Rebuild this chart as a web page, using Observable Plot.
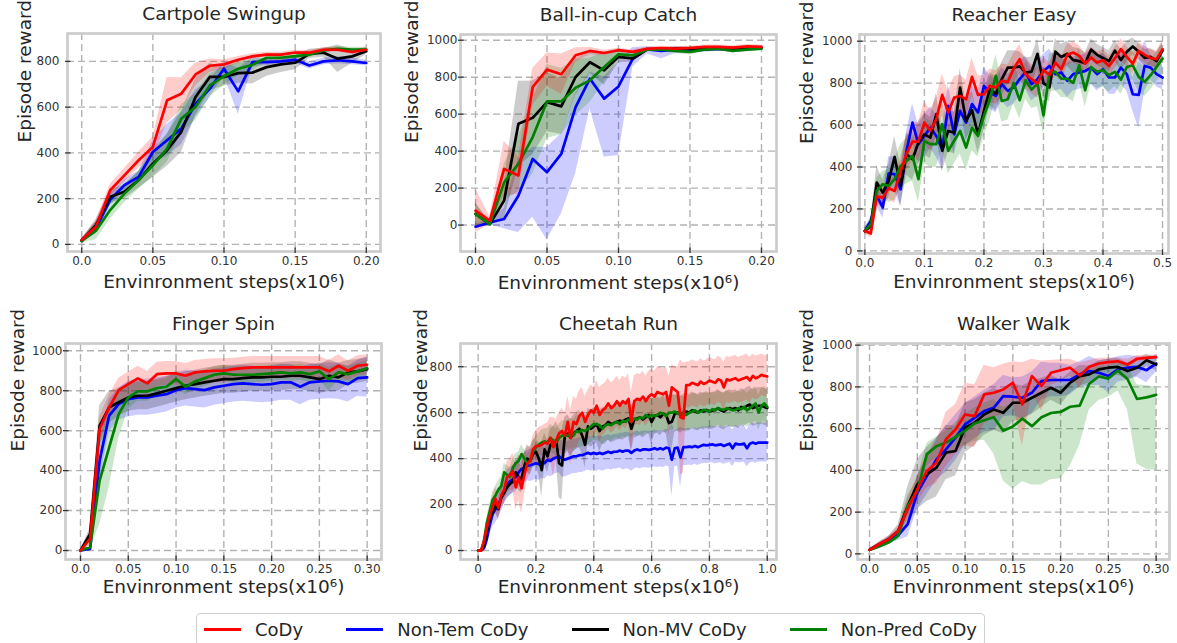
<!DOCTYPE html>
<html><head><meta charset="utf-8">
<script src="https://cdn.jsdelivr.net/npm/d3@7"></script>
<script src="https://cdn.jsdelivr.net/npm/@observablehq/plot@0.6"></script>
<style>
body{margin:0;background:#fff;}
#root{position:relative;width:1177px;height:643px;overflow:hidden;font-family:"DejaVu Sans",sans-serif;background:#fff;}
.cell{position:absolute;}
#legend{position:absolute;left:196px;top:613px;width:789px;height:33px;box-sizing:border-box;border:1px solid #cfcfcf;border-radius:4px;display:flex;justify-content:space-between;align-items:center;padding:0 7px;font-size:18px;color:#262626;}
#legend .item{display:flex;align-items:center;white-space:nowrap;}
#legend .sw{display:inline-block;width:37px;height:3px;margin-right:14px;}
</style></head>
<body><div id="root"></div>
<script>
// ---------- shared labels ----------
const seriesNames = ["CoDy", "Non-Tem CoDy", "Non-MV CoDy", "Non-Pred CoDy"];
const seriesColors = ["#ff0000", "#0000ff", "#000000", "#008000"];
const drawOrder = ["Non-Tem CoDy", "Non-MV CoDy", "Non-Pred CoDy", "CoDy"];
const xAxisLabel = "Envinronment steps(x10\u2076)";
const yAxisLabel = "Episode reward";
const panelTitles = ["Cartpole Swingup", "Ball-in-cup Catch", "Reacher Easy", "Finger Spin", "Cheetah Run", "Walker Walk"];

// ---------- Cartpole Swingup (step 0.01) ----------
const cartpoleCoDy    = [19,77,237,302,368,426,630,659,743,781,787,807,822,830,830,839,838,851,851,841,851];
const cartpoleNonTem  = [19,70,195,259,295,404,455,506,615,680,768,669,797,797,800,807,782,800,805,800,793];
const cartpoleNonMV   = [15,84,208,230,281,353,412,492,644,732,732,749,751,775,787,794,833,838,812,822,844];
const cartpoleNonPred = [15,60,150,222,281,346,419,550,601,695,735,768,785,816,816,823,829,848,855,852,852];
const cartpoleCoDySd    = [8,25,25,30,35,45,100,70,50,30,20,15,12,10,10,10,10,10,10,10,10];
const cartpoleNonTemSd  = [8,25,25,25,25,50,70,70,60,40,30,100,20,15,15,15,15,15,15,15,12];
const cartpoleNonMVSd   = [8,25,30,30,35,60,70,90,80,60,40,45,50,40,35,30,20,20,60,30,15];
const cartpoleNonPredSd = [8,40,40,40,40,50,60,60,60,50,40,30,25,20,15,12,12,10,10,10,10];

// ---------- Ball-in-cup Catch (step 0.01) ----------
const ballCoDy    = [78,24,304,268,747,841,816,919,942,931,946,937,953,958,955,958,964,964,960,967,964];
const ballNonTem  = [-9,14,33,159,358,286,385,638,792,684,750,900,951,942,949,946,951,955,951,953,958];
const ballNonMV   = [60,5,132,548,580,665,642,801,881,837,910,901,951,949,955,955,953,955,949,955,958];
const ballNonPred = [60,5,231,331,476,669,669,743,783,855,924,918,949,949,942,937,949,955,942,949,955];
const ballCoDySd    = [120,20,150,100,100,90,110,40,20,15,10,10,10,10,10,10,10,10,10,10,10];
const ballNonTemLo  = [-20,0,-20,-40,42,-80,60,277,629,367,376,855,925,900,930,930,935,940,935,940,945];
const ballNonTemHi  = [5,30,90,360,421,420,494,710,828,801,882,960,965,960,962,962,965,968,965,966,968];
const ballNonMVSd   = [60,10,100,230,200,160,150,100,60,80,30,20,10,10,10,10,10,10,10,10,10];
const ballNonPredSd = [60,10,100,150,200,200,180,150,120,80,30,20,10,10,15,15,10,10,10,10,10];

// ---------- Reacher Easy (step 0.01) ----------
const reacherCoDy = [95,83,259,254,299,286,378,464,521,521,612,572,628,744,660,731,739,723,830,744,747,787,779,811,806,
  870,914,843,819,798,862,839,898,866,935,946,930,893,922,898,909,882,919,962,925,893,954,935,919,914,962];
const reacherNonTem = [95,143,262,207,369,366,294,477,612,509,548,588,548,485,692,556,668,612,700,660,787,755,739,795,763,
  780,819,851,795,819,858,882,843,851,811,843,851,858,874,843,866,827,827,874,843,747,744,882,874,843,827];
const reacherNonMV = [95,119,326,278,334,448,310,461,437,517,556,540,652,477,572,564,779,620,671,556,668,771,750,819,874,
  874,880,850,855,940,800,780,950,925,940,910,905,895,960,935,920,905,955,910,950,975,950,920,925,905,955];
const reacherNonPred = [95,127,286,318,310,342,405,429,453,342,525,509,509,604,477,525,572,493,588,548,644,723,835,715,723,
  801,719,814,769,798,647,849,854,822,820,801,885,766,877,854,862,838,854,817,877,885,830,806,838,877,917];
const reacherCoDySd = [15,20,40,50,50,60,70,80,90,90,100,100,100,100,100,100,100,90,90,90,90,80,80,80,80,70,70,70,70,70,
  60,60,60,60,50,50,50,50,50,50,50,50,50,50,50,50,40,40,40,40,40];
const reacherNonTemSd = [15,20,50,50,80,80,80,90,90,90,100,100,100,100,100,100,100,100,90,90,90,80,80,80,80,80,80,80,80,80,
  80,80,80,80,80,80,80,80,80,80,80,80,80,80,80,80,160,120,60,60,60];
const reacherNonMVSd = [15,30,80,60,80,100,100,100,100,100,100,100,100,100,100,100,90,90,90,90,90,80,80,80,80,80,70,70,70,70,
  70,70,60,60,60,60,60,50,50,50,50,50,50,50,50,40,40,40,40,40,40];
const reacherNonPredSd = [15,20,60,60,80,100,100,110,120,110,110,110,110,110,110,110,110,110,110,100,100,100,100,100,100,100,90,90,90,110,
  90,90,90,90,90,90,80,80,80,80,80,80,70,70,70,70,70,70,70,70,70];

// ---------- Finger Spin (step 0.01) ----------
const fingerCoDy    = [0,58,608,717,803,833,862,837,883,887,887,875,892,897,900,900,908,913,917,917,917,917,917,917,917,917,897,925,900,925,930];
const fingerNonTem  = [0,8,450,675,733,758,767,767,775,783,803,813,808,803,817,825,833,837,833,830,833,842,842,820,842,847,850,847,833,863,867];
const fingerNonMV   = [0,83,625,717,742,767,775,775,787,800,813,825,833,842,850,858,858,863,867,867,870,870,875,875,867,858,875,867,892,897,908];
const fingerNonPred = [0,17,350,517,683,767,797,797,813,820,858,820,847,863,880,887,880,880,880,883,887,892,887,892,883,897,858,892,883,897,913];
const fingerCoDySd    = [0,30,60,60,60,60,60,60,60,60,60,60,60,60,60,60,55,55,55,55,55,55,55,55,55,55,55,55,50,50,50];
const fingerNonTemSd  = [0,10,100,80,80,90,90,90,90,90,90,90,90,90,90,90,90,90,90,90,90,90,90,90,90,90,90,90,90,90,100];
const fingerNonMVSd   = [0,30,100,80,70,70,70,70,70,70,70,70,70,70,70,70,70,70,70,70,70,70,70,70,70,70,80,70,60,60,60];
const fingerNonPredSd = [0,15,220,200,120,60,50,50,40,40,40,40,40,40,40,40,40,40,40,40,40,40,40,40,40,40,60,40,40,40,40];

// ---------- Cheetah Run (step 0.01) ----------
const cheetahCoDy = [0,0,40,100,150,190,225,185,240,265, 320,330,345,275,320,270,330,380,390,440,
  455,455,460,470,465,490,450,480,510,520, 500,560,490,560,550,585,600,560,590,610,
  600,630,590,610,620,640,620,630,650,630, 650,640,660,560,650,660,655,670,650,670,
  680,670,690,685,680,690,630,710,700,690, 580,575,720,720,730,725,720,735,725,730,
  740,735,730,745,740,710,745,740,745,750, 740,745,750,755,740,760,750,755,765,760, 758];
const cheetahNonTem = [0,0,10,50,110,160,180,200,230,260, 290,300,310,320,340,355,360,370,370,375,
  380,375,385,380,395,390,400,405,410,400, 395,400,405,410,410,415,415,420,425,420,
  425,420,425,420,425,430,425,430,430,435, 430,435,435,425,435,440,435,440,440,438,
  440,445,440,445,440,448,445,395,445,448, 405,450,450,452,450,455,450,455,460,458,
  460,462,458,460,462,455,460,465,445,465, 462,462,465,445,465,470,465,470,470,470, 470];
const cheetahNonMV = [0,0,20,80,140,165,200,180,230,250, 275,290,300,340,320,310,370,400,390,420,
  430,400,350,440,410,460,470,480,380,370, 500,510,490,510,520,530,500,460,540,530,
  540,550,520,540,545,560,550,555,560,565, 560,570,575,530,570,575,580,570,580,590,
  560,585,590,580,595,590,555,560,595,600, 590,600,605,600,610,605,600,610,605,612,
  605,608,612,620,610,605,615,620,615,620, 610,625,620,630,635,620,625,630,630,625, 620];
const cheetahNonPred = [0,0,40,120,170,220,240,265,280,340, 330,320,360,380,390,420,400,380,390,430,
  450,460,470,475,470,490,480,470,490,500, 500,500,510,500,520,515,525,520,530,540,
  550,550,545,530,545,550,545,555,560,550, 565,560,570,560,575,570,580,575,590,580,
  590,585,590,600,595,585,600,600,605,595, 600,595,590,600,605,610,600,605,612,610,
  605,615,610,620,615,612,620,615,610,612, 620,615,625,610,620,630,640,600,630,640, 625];
const cheetahCoDySd = [5,5,15,25,35,45,50,55,60,60, 65,70,80,100,100,110,90,70,60,60,
  70,80,80,80,90,90,130,90,90,100, 100,110,120,110,110,110,110,110,110,110,
  110,110,120,110,110,110,110,110,110,110, 110,110,110,130,110,110,110,110,110,110,
  110,110,110,110,110,110,130,100,100,110, 250,240,100,100,100,100,100,100,100,100,
  100,100,100,100,100,110,100,100,100,100, 100,100,100,100,100,95,95,95,90,90, 90];
const cheetahNonTemSd = [5,5,15,30,45,55,60,60,60,60, 60,60,60,65,65,65,65,65,70,70,
  70,70,70,70,70,70,70,70,70,80, 75,75,75,75,75,75,75,75,75,75,
  75,75,75,75,75,75,75,75,75,75, 80,80,80,80,80,80,80,80,80,80,
  80,80,80,80,80,80,80,160,80,80, 130,80,80,80,80,80,80,80,80,80,
  80,80,80,80,80,80,80,80,80,80, 80,80,80,80,85,85,85,85,85,85, 85];
const cheetahNonMVSd = [5,5,10,20,30,35,40,40,45,45, 50,50,50,60,60,60,60,60,60,60,
  60,70,120,70,70,70,70,80,150,150, 80,80,80,80,80,80,80,100,80,80,
  80,80,90,80,80,80,80,80,80,80, 80,80,80,100,80,80,80,80,80,80,
  100,80,80,80,80,80,120,120,80,80, 80,80,80,80,80,80,80,80,80,80,
  80,80,80,80,80,80,80,80,80,80, 80,80,80,80,80,80,80,80,80,80, 80];
const cheetahNonPredSd = [5,5,15,25,30,35,40,40,40,40, 40,40,40,40,40,40,40,40,40,45,
  50,50,55,55,60,60,60,60,60,65, 65,65,65,70,70,70,70,70,70,70,
  70,70,70,70,70,70,70,70,70,70, 70,70,70,70,70,75,75,75,75,75,
  75,75,75,75,75,75,75,75,75,75, 75,75,75,75,75,75,75,75,75,75,
  75,75,75,75,75,75,75,75,75,75, 75,75,75,75,75,75,75,75,75,75, 75];

// ---------- Walker Walk (step 0.01) ----------
const walkerCoDy    = [19,46,70,110,214,309,397,437,549,596,668,660,764,772,788,820,716,852,804,868,880,892,855,896,912,919,923,907,935,939,943];
const walkerNonTem  = [19,41,67,89,142,293,373,453,501,557,620,652,684,700,756,753,748,772,828,833,833,833,860,876,868,852,884,892,896,880,912];
const walkerNonMV   = [19,46,70,110,230,333,381,413,485,493,604,628,668,692,676,724,724,748,772,796,772,820,852,860,884,892,896,876,892,928,907];
const walkerNonPred = [19,35,54,86,230,301,478,516,533,560,590,625,640,655,590,610,648,612,655,675,680,705,710,815,850,840,878,838,742,750,762];
const walkerCoDySd   = [5,10,15,20,50,60,80,100,130,120,150,150,140,120,120,100,200,80,120,60,50,40,60,30,25,20,15,25,15,10,10];
const walkerNonTemSd = [5,10,15,25,60,80,90,100,110,110,100,100,100,110,100,90,100,100,90,80,80,70,60,70,60,80,60,60,50,60,40];
const walkerNonMVSd  = [5,10,15,30,90,120,130,140,130,120,120,110,100,100,100,90,80,80,70,60,60,50,50,40,40,40,40,40,40,30,30];
const walkerNonPredLo = [10,25,45,70,180,260,420,460,480,500,520,540,545,480,350,310,345,330,330,355,360,420,520,690,735,750,780,690,430,405,400];
const walkerNonPredHi = [30,45,65,110,280,360,530,560,590,630,670,700,720,740,700,720,750,740,770,790,800,820,850,880,900,900,920,900,810,805,800];

// ---------- ticks ----------
const yTicks1000 = [0,200,400,600,800,1000];
const yTicks800 = [0,200,400,600,800];
const xTicks02 = [0,0.05,0.10,0.15,0.20];
const xTicks02Labels = ["0.0","0.05","0.10","0.15","0.20"];
const xTicks05 = [0,0.1,0.2,0.3,0.4,0.5];
const xTicks05Labels = ["0.0","0.1","0.2","0.3","0.4","0.5"];
const xTicks03 = [0,0.05,0.10,0.15,0.20,0.25,0.30];
const xTicks03Labels = ["0.0","0.05","0.10","0.15","0.20","0.25","0.30"];
const xTicks10 = [0,0.2,0.4,0.6,0.8,1.0];
const xTicks10Labels = ["0","0.2","0.4","0.6","0.8","1.0"];
const stepSize = 0.01;

function S(mean, sd, lo, hi) { return {mean, sd, lo, hi}; }

const panels = [
  {title: panelTitles[0], left: 0, top: 0, w: 392, h: 300, ml: 67, mr: 12, mt: 33, mb: 49,
   xDomain: [-0.01, 0.21], yDomain: [-31, 922], xTicks: xTicks02, xLabels: xTicks02Labels, yTicks: yTicks800,
   xlOff: 36, ylOff: 50, yPad: 8,
   series: {"CoDy": S(cartpoleCoDy, cartpoleCoDySd), "Non-Tem CoDy": S(cartpoleNonTem, cartpoleNonTemSd),
            "Non-MV CoDy": S(cartpoleNonMV, cartpoleNonMVSd), "Non-Pred CoDy": S(cartpoleNonPred, cartpoleNonPredSd)}},
  {title: panelTitles[1], left: 392, top: 0, w: 393, h: 300, ml: 68, mr: 9, mt: 34, mb: 49,
   xDomain: [-0.0105, 0.2105], yDomain: [-143, 1031], xTicks: xTicks02, xLabels: xTicks02Labels, yTicks: yTicks1000,
   xlOff: 37, ylOff: 55.5, yPad: 3,
   series: {"CoDy": S(ballCoDy, ballCoDySd), "Non-Tem CoDy": S(ballNonTem, null, ballNonTemLo, ballNonTemHi),
            "Non-MV CoDy": S(ballNonMV, ballNonMVSd), "Non-Pred CoDy": S(ballNonPred, ballNonPredSd)}},
  {title: panelTitles[2], left: 785, top: 0, w: 392, h: 300, ml: 74, mr: 9, mt: 34, mb: 47,
   xDomain: [-0.009, 0.51], yDomain: [-12.5, 1032], xTicks: xTicks05, xLabels: xTicks05Labels, yTicks: yTicks1000,
   xlOff: 34, ylOff: 59.5, yPad: 7,
   series: {"CoDy": S(reacherCoDy, reacherCoDySd), "Non-Tem CoDy": S(reacherNonTem, reacherNonTemSd),
            "Non-MV CoDy": S(reacherNonMV, reacherNonMVSd), "Non-Pred CoDy": S(reacherNonPred, reacherNonPredSd)}},
  {title: panelTitles[3], left: 0, top: 300, w: 392, h: 300, ml: 65, mr: 11, mt: 43, mb: 41,
   xDomain: [-0.0157, 0.315], yDomain: [-45, 1036.5], xTicks: xTicks03, xLabels: xTicks03Labels, yTicks: yTicks1000,
   xlOff: 33, ylOff: 55, yPad: 3,
   series: {"CoDy": S(fingerCoDy, fingerCoDySd), "Non-Tem CoDy": S(fingerNonTem, fingerNonTemSd),
            "Non-MV CoDy": S(fingerNonMV, fingerNonMVSd), "Non-Pred CoDy": S(fingerNonPred, fingerNonPredSd)}},
  {title: panelTitles[4], left: 392, top: 300, w: 393, h: 300, ml: 68, mr: 9, mt: 43, mb: 41,
   xDomain: [-0.061, 1.032], yDomain: [-39, 901], xTicks: xTicks10, xLabels: xTicks10Labels, yTicks: yTicks800,
   xlOff: 33.5, ylOff: 46.5, yPad: 8,
   series: {"CoDy": S(cheetahCoDy, cheetahCoDySd), "Non-Tem CoDy": S(cheetahNonTem, cheetahNonTemSd),
            "Non-MV CoDy": S(cheetahNonMV, cheetahNonMVSd), "Non-Pred CoDy": S(cheetahNonPred, cheetahNonPredSd)}},
  {title: panelTitles[5], left: 785, top: 300, w: 392, h: 300, ml: 72, mr: 8, mt: 43, mb: 41,
   xDomain: [-0.0126, 0.314], yDomain: [-27, 1008], xTicks: xTicks03, xLabels: xTicks03Labels, yTicks: yTicks1000,
   xlOff: 33.5, ylOff: 57.5, yPad: 5,
   series: {"CoDy": S(walkerCoDy, walkerCoDySd), "Non-Tem CoDy": S(walkerNonTem, walkerNonTemSd),
            "Non-MV CoDy": S(walkerNonMV, walkerNonMVSd), "Non-Pred CoDy": S(walkerNonPred, null, walkerNonPredLo, walkerNonPredHi)}}
];

const root = document.getElementById("root");
const gridStyle = {stroke: "#b3b3b3", strokeOpacity: 1, strokeWidth: 1.4, strokeDasharray: "7,4"};
const textColor = "#262626";

for (const p of panels) {
  const rows = [];
  for (const name of drawOrder) {
    const s = p.series[name];
    s.mean.forEach((v, i) => rows.push({
      x: i * stepSize, s: name, y: v,
      lo: s.lo ? s.lo[i] : v - s.sd[i],
      hi: s.hi ? s.hi[i] : v + s.sd[i]
    }));
  }
  const fw = p.w - p.ml - p.mr, fh = p.h - p.mt - p.mb;
  const chart = Plot.plot({
    width: p.w, height: p.h,
    marginLeft: p.ml, marginRight: p.mr, marginTop: p.mt, marginBottom: p.mb,
    style: {fontFamily: "DejaVu Sans", fontSize: "12px", background: "white", overflow: "visible", color: "#333"},
    x: {domain: p.xDomain, axis: null},
    y: {domain: p.yDomain, axis: null},
    color: {domain: seriesNames, range: seriesColors},
    marks: [
      Plot.gridX(p.xTicks, gridStyle),
      Plot.gridY(p.yTicks, gridStyle),
      Plot.areaY(rows, {x: "x", y1: "lo", y2: "hi", z: "s", fill: "s", fillOpacity: 0.2, clip: true}),
      Plot.lineY(rows, {x: "x", y: "y", z: "s", stroke: "s", strokeWidth: 2.7, clip: true}),
      Plot.frame({stroke: "#cccccc", strokeWidth: 2.7}),
      Plot.tickX(p.xTicks, {x: d => d, insetTop: fh - 3.5, insetBottom: -2, stroke: "#333", strokeWidth: 1.3}),
      Plot.tickY(p.yTicks, {y: d => d, insetRight: fw - 3.5, insetLeft: -2, stroke: "#333", strokeWidth: 1.3}),
      Plot.axisX(p.xTicks, {tickSize: 0, tickPadding: 5, label: null, fontSize: 12, fill: "#333",
        tickFormat: d => p.xLabels[p.xTicks.indexOf(d)]}),
      Plot.axisY(p.yTicks, {tickSize: 0, tickPadding: p.yPad, label: null, fontSize: 12, fill: "#333",
        tickFormat: d3.format("d")}),
      Plot.text([p.title], {text: d => d, frameAnchor: "top", lineAnchor: "bottom", dy: -14, fontSize: 18.5, fill: textColor}),
      Plot.text([xAxisLabel], {text: d => d, frameAnchor: "bottom", lineAnchor: "bottom", dy: p.xlOff, fontSize: 18.5, fill: textColor}),
      Plot.text([yAxisLabel], {text: d => d, frameAnchor: "left", lineAnchor: "top", rotate: -90, dx: -p.ylOff, fontSize: 18.5, fill: textColor})
    ]
  });
  const cell = document.createElement("div");
  cell.className = "cell";
  cell.style.left = p.left + "px";
  cell.style.top = p.top + "px";
  cell.appendChild(chart);
  root.appendChild(cell);
}

// ---------- legend ----------
const legend = document.createElement("div");
legend.id = "legend";
seriesNames.forEach((n, i) => {
  const it = document.createElement("div");
  it.className = "item";
  const sw = document.createElement("span");
  sw.className = "sw";
  sw.style.background = seriesColors[i];
  it.appendChild(sw);
  it.appendChild(document.createTextNode(n));
  legend.appendChild(it);
});
root.appendChild(legend);
</script>
</body></html>
